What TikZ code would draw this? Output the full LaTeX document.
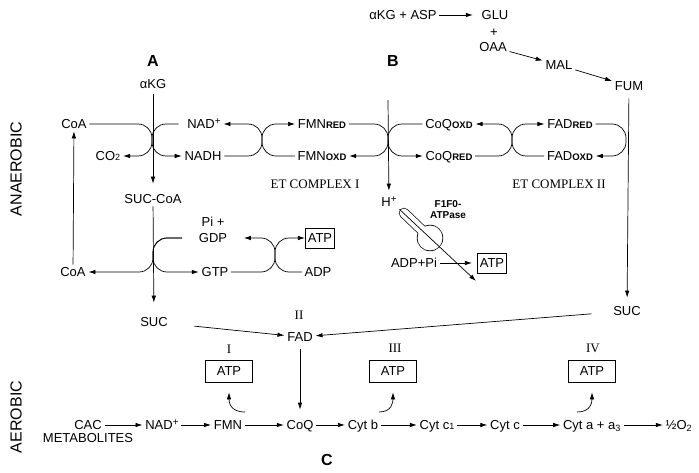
\documentclass[tikz,border=0pt]{standalone}
\usepackage{fontspec}
\setmainfont{Liberation Sans}
\newfontfamily\timesfont{Liberation Serif}
\usetikzlibrary{arrows.meta}
\usetikzlibrary{positioning}
\newcommand{\rx}[1]{{\fontsize{9.5}{10}\selectfont\bfseries #1}}
\newcommand{\sm}[1]{{\fontsize{9}{9}\selectfont #1}}
\newcommand{\supp}[1]{\raisebox{4pt}{\fontsize{10}{10}\selectfont #1}}
\tikzset{
    lbl/.style={inner sep=2.5pt, text height=9pt, text depth=0pt, font=\fontsize{13}{15}\selectfont},
    box/.style={lbl, draw, inner xsep=2.5pt, minimum height=20pt},
    bigbox/.style={lbl, draw, minimum width=47pt, minimum height=22pt},
    et/.style={inner sep=1pt, font=\timesfont\fontsize{13}{15}\selectfont},
    side/.style={rotate=90, font=\fontsize{16}{18}\selectfont},
    panel/.style={font=\bfseries\fontsize{16}{18}\selectfont},
    pump/.style={font=\bfseries\fontsize{10}{11}\selectfont, align=center, inner sep=0pt},
    arr/.style={-{Latex[length=7pt,width=4.5pt]}},
    couple/.style={rounded corners=14pt}
}
\begin{document}
\begin{tikzpicture}[x=1pt, y=-1pt, line width=0.7pt]
\useasboundingbox (0,0) rectangle (699,473);

\node[side] (anaer) at (16,169) {ANAEROBIC};
\node[side] (aer) at (16,417) {AEROBIC};
\node[panel] (pA) at (153,61) {A};
\node[panel] (pB) at (393,61) {B};
\node[panel] (pC) at (327,460) {C};

% A
\node[lbl] (akg) at (153,84) {αKG};
\node[lbl] (coaT) at (74,124) {CoA};
\node[lbl] (co2) at (108,156) {CO\sm{2}};
\node[lbl] (nadp) at (204,124) {NAD\supp{+}};
\node[lbl] (nadh) at (203,156) {NADH};
\node[lbl] (sucCoA) at (153,199) {SUC-CoA};
\node[lbl] (gdp) at (213,238) {GDP};
\node[lbl, above=1pt of gdp] (pi) {Pi +};
\node[lbl] (coaB) at (73,272) {CoA};
\node[lbl] (gtp) at (215,272) {GTP};
\node[box] (atpA) at (320,238) {ATP};
\node[lbl] (adp) at (318,272) {ADP};
\node[lbl] (sucL) at (154,322) {SUC};

% B
\node[lbl] (fmnr) at (322,124) {FMN\rx{RED}};
\node[lbl] (fmno) at (322,156) {FMN\rx{OXD}};
\node[lbl] (coqo) at (449,124) {CoQ\rx{OXD}};
\node[lbl] (coqr) at (449,156) {CoQ\rx{RED}};
\node[lbl] (fadr) at (570,124) {FAD\rx{RED}};
\node[lbl] (fado) at (570,156) {FAD\rx{OXD}};
\node[et] (etI) at (315,184) {ET COMPLEX I};
\node[et] (etII) at (559,184) {ET COMPLEX II};
\node[lbl] (akgasp) at (403,15) {αKG + ASP};
\node[lbl] (glu) at (495,15) {GLU};
\node[lbl] (plus) at (494,32) {+};
\node[lbl] (oaa) at (493,47) {OAA};
\node[lbl] (mal) at (559,65) {MAL};
\node[lbl] (fum) at (629,86) {FUM};
\node[lbl] (hp) at (389,202) {H\supp{+}};
\node[pump] (f1f0) at (448,210) {F1F0-\\ATPase};
\node[lbl] (adppi) at (414,263) {ADP+Pi};
\node[box] (atpB) at (492,263) {ATP};
\node[lbl] (sucR) at (627,311) {SUC};
\coordinate (etTop) at (388,100);
\coordinate (pumpEnd) at (476,281);

% C
\node[et] (rII) at (299,315) {II};
\node[lbl] (fad) at (300,337) {FAD};
\node[et] (rI) at (229,349) {I};
\node[et] (rIII) at (395,348) {III};
\node[et] (rIV) at (593,348) {IV};
\node[bigbox] (atpI) at (229,371) {ATP};
\node[bigbox] (atpIII) at (393,371) {ATP};
\node[bigbox] (atpIV) at (592,371) {ATP};
\node[lbl] (cac) at (88,425) {CAC};
\node[lbl, below=-2pt of cac] (metab) {METABOLITES};
\node[lbl] (nadB) at (162,425) {NAD\supp{+}};
\node[lbl] (fmn) at (228,425) {FMN};
\node[lbl] (coq) at (300,425) {CoQ};
\node[lbl] (cytb) at (363,425) {Cyt b};
\node[lbl] (cytc1) at (437,425) {Cyt c\sm{1}};
\node[lbl] (cytc) at (505,425) {Cyt c};
\node[lbl] (cyta) at (592,425) {Cyt a + a\textsubscript{3}};
\node[lbl] (o2) at (679,425) {½O\textsubscript{2}};
\coordinate (curlI) at (245,412);
\coordinate (curlIII) at (379,412);
\coordinate (curlIV) at (577,412);

% alpha-KG dehydrogenase
\draw[arr, shorten <=3pt, shorten >=8pt] (akg) -- (sucCoA);
\draw[arr, couple] (coaT.east) -- (152,124) -- (152,156) -- (co2.east);
\draw[arr, couple, shorten <=6pt] (nadp.west) -- (152,124) -- (152,156) -- (nadh.west);
\draw[arr, couple] (nadh.east) -- (262,156) -- (262,124) -- (nadp.east);
\draw[arr, couple] (fmno.west) -- (262,156) -- (262,124) -- (fmnr.west);

% complex I and II
\draw[arr, shorten >=4pt] (etTop) -- (hp);
\draw[arr, couple] (fmnr.east) -- (388,124) -- (388,156) -- (fmno.east);
\draw[arr, couple] (coqo.west) -- (388,124) -- (388,156) -- (coqr.west);
\draw[arr, couple] (coqr.east) -- (512,156) -- (512,124) -- (coqo.east);
\draw[arr, couple] (fado.west) -- (512,156) -- (512,124) -- (fadr.west);
\draw[arr, couple] (fadr.east) -- (626,124) -- (626,156) -- (fado.east);
\draw[arr, shorten <=5pt, shorten >=6pt] (fum) -- (sucR);
\draw[arr, shorten >=6pt] (akgasp) -- (glu);
\draw[arr] (oaa) -- (mal);
\draw[arr] (mal) -- (fum);

% ATPase
\coordinate (stalkA) at (404,213);
\coordinate (stalkB) at (428,236);
\coordinate (head) at (430,238);
\draw[line width=10.4pt, line cap=round] (stalkA) -- (stalkB);
\fill (head) circle (13.2pt);
\draw[white, line width=9pt, line cap=round] (stalkA) -- (stalkB);
\fill[white] (head) circle (12.5pt);
\draw[arr] (hp.south east) -- (pumpEnd);
\draw[arr, shorten >=5pt] (adppi) -- (atpB);

% succinyl-CoA synthetase
\draw[arr, shorten >=12pt] (sucCoA) -- (sucL);
\draw[arr] (coaB) -- (coaT);
\draw[arr, couple, shorten <=14pt] (gdp.west) -- (153,238) -- (153,272) -- (coaB.east);
\draw[arr, couple, shorten <=14pt] (gdp.west) -- (153,238) -- (153,272) -- (gtp.west);
\draw[arr, couple, shorten >=14pt] (gtp.east) -- (275,272) -- (275,238) -- (gdp.east);
\draw[arr, couple] (adp.west) -- (275,272) -- (275,238) -- (atpA.west);

% respiratory chain
\draw[arr, shorten <=24pt] (sucL) -- (fad);
\draw[arr, shorten <=19pt] (sucR) -- (fad);
\draw[arr, shorten <=5pt, shorten >=8pt] (fad) -- (coq);
\draw[arr] (cac) -- (nadB);
\draw[arr] (nadB) -- (fmn);
\draw[arr] (fmn) -- (coq);
\draw[arr] (coq) -- (cytb);
\draw[arr] (cytb) -- (cytc1);
\draw[arr] (cytc1) -- (cytc);
\draw[arr] (cytc) -- (cyta);
\draw[arr] (cyta) -- (o2);
\draw[arr, shorten >=10pt] (curlI) .. controls (230,412) and (229,402) .. (atpI.south);
\draw[arr, shorten >=10pt] (curlIII) .. controls (392,412) and (393,402) .. (atpIII.south);
\draw[arr, shorten >=10pt] (curlIV) .. controls (591,412) and (592,402) .. (atpIV.south);
\end{tikzpicture}
\end{document}
